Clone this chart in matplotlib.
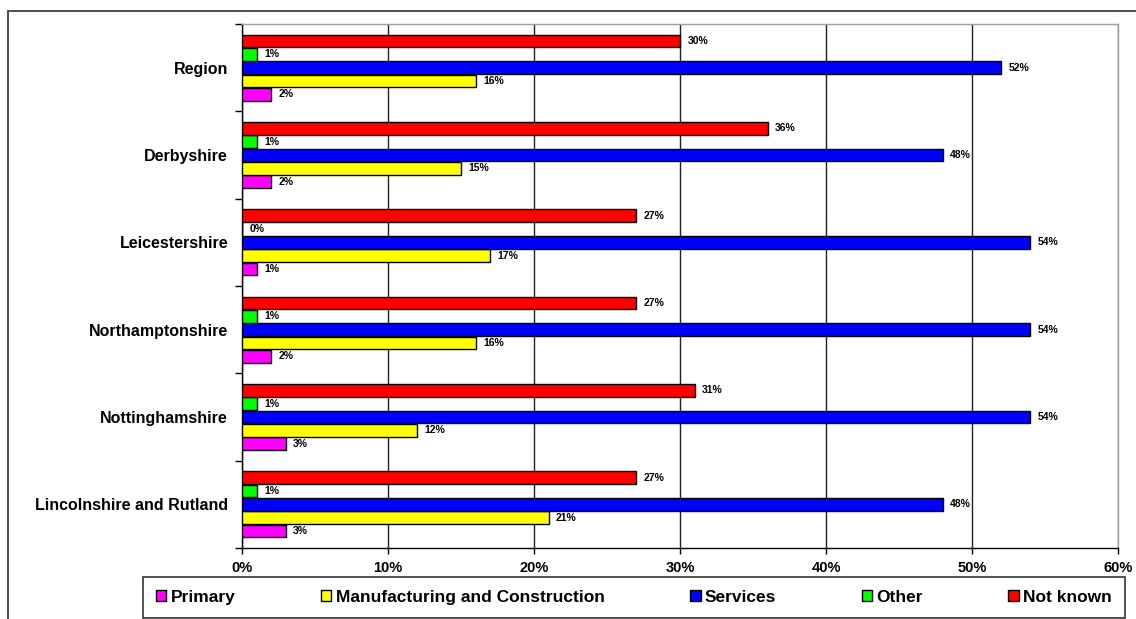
import matplotlib
matplotlib.use("Agg")
import matplotlib.pyplot as plt
from matplotlib.patches import Patch, Rectangle
from matplotlib.ticker import FixedLocator
import numpy as np

plt.rcParams['font.family'] = ['Liberation Sans', 'DejaVu Sans']

categories = ["Region", "Derbyshire", "Leicestershire", "Northamptonshire",
              "Nottinghamshire", "Lincolnshire and Rutland"]
series_names = ["Primary", "Manufacturing and Construction", "Services", "Other", "Not known"]
primary = [2, 2, 1, 2, 3, 3]
manufacturing = [16, 15, 17, 16, 12, 21]
services = [52, 48, 54, 54, 54, 48]
other = [1, 1, 0, 1, 1, 1]
not_known = [30, 36, 27, 27, 31, 27]
x_ticks = [0, 10, 20, 30, 40, 50, 60]
x_tick_labels = ["0%", "10%", "20%", "30%", "40%", "50%", "60%"]
series_colors = ["#FF00FF", "#FFFF00", "#0000FF", "#00FF00", "#FF0000"]

W, H = 1136, 619
fig = plt.figure(figsize=(W / 100, H / 100), dpi=100)

# outer chart border (cut off at right and bottom)
fig.patches.append(Rectangle((8 / W, -0.05), 1.05, 1 - 11 / H + 0.05,
                             transform=fig.transFigure, fill=False,
                             edgecolor="#404040", linewidth=1.3, zorder=0))

ax = fig.add_axes([242 / W, 1 - 548 / H, (1118 - 242) / W, (548 - 24) / H])

data = [primary, manufacturing, services, other, not_known]
n = len(categories)
y = np.arange(n)
h = 0.152
for k, (vals, col) in enumerate(zip(data, series_colors)):
    pos = y + (2 - k) * h
    ax.barh(pos, vals, height=h * 0.95, color=col, edgecolor="black",
            linewidth=1.0, zorder=3)
    for p, v in zip(pos, vals):
        ax.text(v + 0.5, p, f"{v}%", ha="left", va="center", fontsize=7.5,
                fontweight="bold", zorder=4)

ax.set_xlim(0, 60)
ax.set_ylim(n - 0.5, -0.5)
ax.set_xticks(x_ticks)
ax.set_xticklabels(x_tick_labels, fontsize=10.5, fontweight="bold")
ax.set_yticks(y)
ax.set_yticklabels(categories, fontsize=11.5, fontweight="bold")
ax.yaxis.set_minor_locator(FixedLocator(np.arange(n + 1) - 0.5))
ax.tick_params(axis="y", which="major", length=0, pad=10)
ax.tick_params(axis="y", which="minor", length=5, width=1, direction="out", color="black")
ax.tick_params(axis="x", which="major", length=4, width=1, direction="out", pad=5, color="black")

ax.grid(axis="x", color="#202020", linewidth=1.0, zorder=1)
ax.set_axisbelow(True)
for s in ["left", "bottom"]:
    ax.spines[s].set_color("black")
    ax.spines[s].set_linewidth(1.0)
for s in ["top", "right"]:
    ax.spines[s].set_color("#a0a0a0")
    ax.spines[s].set_linewidth(1.0)

handles = [Patch(facecolor=c, edgecolor="black", linewidth=1.0) for c in series_colors]
leg = fig.legend(handles, series_names, loc="lower left",
                 bbox_to_anchor=(143 / W, 1 - 618 / H, (1125 - 143) / W, 46 / H),
                 mode="expand", ncol=5,
                 prop={"weight": "bold", "size": 12.5},
                 handlelength=0.6, handleheight=0.6, handletextpad=0.25,
                 borderaxespad=0, frameon=True, fancybox=False, borderpad=0.75)
leg.get_frame().set_edgecolor("black")
leg.get_frame().set_linewidth(1.2)

fig.savefig("out.png", dpi=100)
